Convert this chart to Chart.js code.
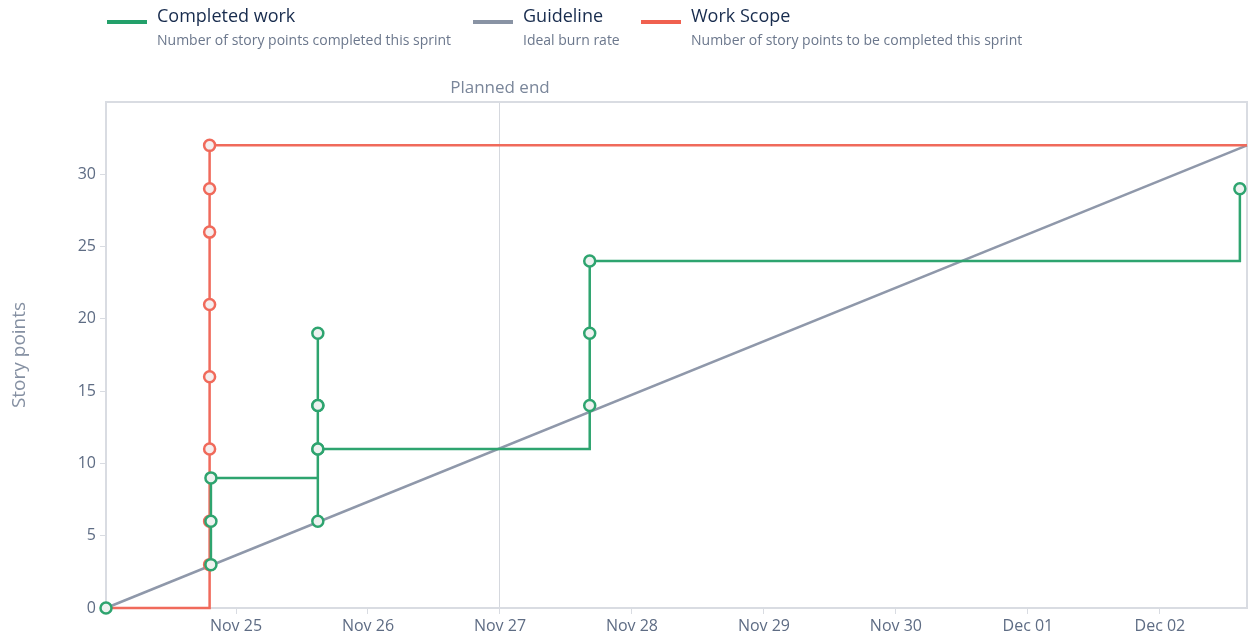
<!DOCTYPE html>
<html>
<head>
<meta charset="utf-8">
<script src="https://cdn.jsdelivr.net/npm/chart.js@4"></script>
<style>
  body { margin: 0; background: #fff; font-family: "Open Sans", sans-serif; }
  #wrap { position: relative; width: 1256px; height: 637px; }
  #burnup { position: absolute; left: 0; top: 0; }
  .legend { position: absolute; top: 3px; left: 0; }
  .item { position: absolute; top: 0; white-space: nowrap; }
  .swatch { position: absolute; top: 17px; width: 40px; height: 4px; }
  .title { position: absolute; left: 50px; top: 0; font-size: 18px; color: #172b4d; }
  .sub { position: absolute; left: 50px; top: 27px; font-size: 14px; color: #6b778c; }
</style>
</head>
<body>
<div id="wrap">
  <canvas id="burnup" width="1256" height="637"></canvas>
  <div class="legend">
    <div class="item" style="left:107px"><div class="swatch" style="background:#23a06a"></div><div class="title">Completed work</div><div class="sub">Number of story points completed this sprint</div></div>
    <div class="item" style="left:473px"><div class="swatch" style="background:#8993a4"></div><div class="title">Guideline</div><div class="sub">Ideal burn rate</div></div>
    <div class="item" style="left:641px"><div class="swatch" style="background:#f0604f"></div><div class="title">Work Scope</div><div class="sub">Number of story points to be completed this sprint</div></div>
  </div>
</div>
<script>
/* days counted from Nov 24 00:00 */
var dayLabels = ["Nov 25", "Nov 26", "Nov 27", "Nov 28", "Nov 29", "Nov 30", "Dec 01", "Dec 02"];
var dayTicks = [1, 2, 3, 4, 5, 6, 7, 8];
var sprintStart = 0.015;
var sprintEnd = 8.66;
var plannedEnd = 3;

var completedX = [0.015, 0.81, 0.81, 0.81, 1.62, 1.62, 1.62, 1.62, 1.62, 1.62, 3.68, 3.68, 3.68, 8.606];
var completedY = [0, 3, 6, 9, 14, 19, 14, 11, 6, 11, 14, 19, 24, 29];

var scopeX = [0.015, 0.80, 0.80, 0.80, 0.80, 0.80, 0.80, 0.80, 0.80, 8.66];
var scopeY = [0, 3, 6, 11, 16, 21, 26, 29, 32, 32];

var guideX = [sprintStart, sprintEnd];
var guideY = [0, 32];

function toPoints(xs, ys) {
  return xs.map(function (x, i) { return { x: x, y: ys[i] }; });
}

var axisGray = "#d9dce2";
var tickFont = { family: "Open Sans", size: 16 };
var green = "#2ea46f";
var red = "#f06a5b";

var ctx = document.getElementById("burnup");

var myChart = new Chart(ctx, {
  type: 'line',
  data: {
    datasets: [
      {
        label: "Completed work",
        data: toPoints(completedX, completedY),
        stepped: true,
        clip: false,
        borderColor: green,
        borderWidth: 2.5,
        // first stretch lies under the scope line
        segment: { borderColor: function (c) { return c.p0DataIndex === 0 ? "rgba(0,0,0,0)" : green; } },
        pointRadius: 5.5,
        pointBorderWidth: 2.5,
        pointBackgroundColor: "#eef2f0",
        pointBorderColor: green,
        order: 1
      },
      {
        label: "Guideline",
        data: toPoints(guideX, guideY),
        clip: false,
        borderColor: "#8f98aa",
        borderWidth: 2.5,
        pointRadius: 0,
        order: 3
      },
      {
        label: "Work Scope",
        data: toPoints(scopeX, scopeY),
        stepped: true,
        clip: false,
        borderColor: red,
        borderWidth: 2.5,
        pointRadius: function (c) { return (c.dataIndex === scopeX.length - 1 || c.dataIndex === 0) ? 0 : 5.5; },
        pointBorderWidth: 2.5,
        pointBackgroundColor: "#f5eeee",
        pointBorderColor: red,
        order: 2
      }
    ]
  },
  options: {
    responsive: false,
    animation: false,
    layout: { padding: 0 },
    plugins: { legend: { display: false }, tooltip: { enabled: false } },
    scales: {
      x: {
        type: 'linear',
        min: sprintStart,
        max: sprintEnd,
        afterBuildTicks: function (s) { s.ticks = dayTicks.map(function (v) { return { value: v }; }); },
        afterFit: function (s) { s.height = 29; },
        ticks: {
          color: "#5e6c84",
          font: tickFont,
          padding: 3,
          maxRotation: 0,
          callback: function (v) { return dayLabels[dayTicks.indexOf(v)]; }
        },
        grid: { drawOnChartArea: false, color: axisGray, tickLength: 6 },
        border: { color: axisGray, width: 2 }
      },
      top: {
        type: 'linear',
        position: 'top',
        min: sprintStart,
        max: sprintEnd,
        afterBuildTicks: function (s) { s.ticks = [{ value: plannedEnd }]; },
        afterFit: function (s) { s.height = 102; },
        ticks: {
          color: "#7a869a",
          font: { family: "Open Sans", size: 17 },
          padding: 4,
          maxRotation: 0,
          callback: function () { return "Planned end"; }
        },
        grid: { color: "#d5d8de", lineWidth: 1, drawTicks: false },
        border: { color: axisGray, width: 2 }
      },
      y: {
        min: 0,
        max: 35,
        afterBuildTicks: function (s) { s.ticks = [0, 5, 10, 15, 20, 25, 30].map(function (v) { return { value: v }; }); },
        afterFit: function (s) { s.width = 106; },
        title: { display: true, text: "Story points", color: "#8590a2", font: { family: "Open Sans", size: 19 }, padding: { top: 8, bottom: 0 } },
        ticks: { color: "#5e6c84", font: tickFont, padding: 4 },
        grid: { drawOnChartArea: false, color: axisGray, tickLength: 6 },
        border: { color: axisGray, width: 2 }
      },
      right: {
        position: 'right',
        min: 0,
        max: 35,
        afterFit: function (s) { s.width = 9; },
        ticks: { display: false },
        grid: { drawOnChartArea: false, drawTicks: false },
        border: { color: axisGray, width: 2 }
      }
    }
  }
});
</script>
</body>
</html>
